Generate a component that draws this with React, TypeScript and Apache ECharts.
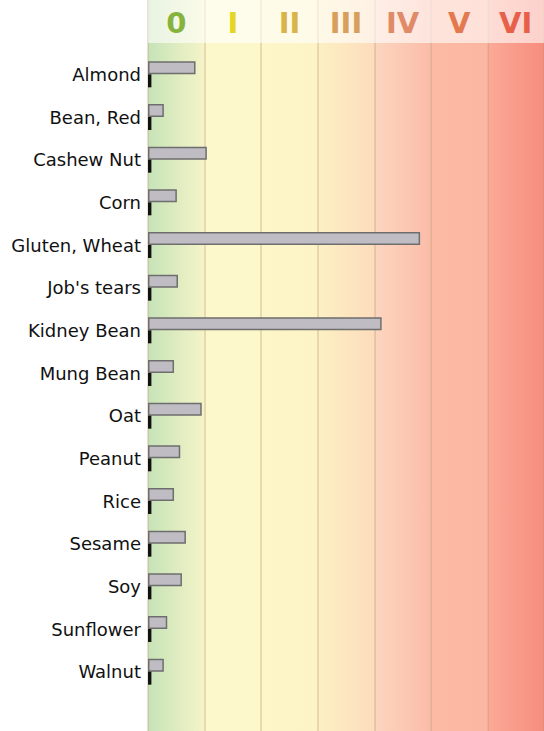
import React, { useEffect, useRef } from "react";
import * as echarts from "echarts";

const categories = [
  "Almond", "Bean, Red", "Cashew Nut", "Corn", "Gluten, Wheat", "Job's tears",
  "Kidney Bean", "Mung Bean", "Oat", "Peanut", "Rice", "Sesame", "Soy", "Sunflower", "Walnut",
];
const classValues = [0.84, 0.28, 1.04, 0.51, 4.81, 0.53, 4.13, 0.46, 0.95, 0.57, 0.46, 0.67, 0.6, 0.34, 0.28];
const baselineMarker = [0.06, 0.06, 0.06, 0.06, 0.06, 0.06, 0.06, 0.06, 0.06, 0.06, 0.06, 0.06, 0.06, 0.06, 0.06];
const classLabels = ["0", "I", "II", "III", "IV", "V", "VI"];
const classLabelColors = ["#86b33c", "#e3d624", "#d9b44a", "#d89e5c", "#e18a68", "#e3794f", "#e8604a"];
const classGradients: [string, string][] = [
  ["#c6e3b8", "#f6f4c8"],
  ["#fdf7cc", "#fdf7cc"],
  ["#fdf6c8", "#fdf3c6"],
  ["#fdf0c4", "#fddcbc"],
  ["#fcd6bf", "#fbbca9"],
  ["#fcbaa5", "#fcb6a2"],
  ["#fbaa98", "#f78d7d"],
];

export default function App() {
  const ref = useRef<HTMLDivElement>(null);
  useEffect(() => {
    if (!ref.current) return;
    const chart = echarts.init(ref.current, undefined, { renderer: "svg" });
    const bgAreas = classGradients.map((g, i) => [
      {
        xAxis: i,
        itemStyle: {
          color: new echarts.graphic.LinearGradient(0, 0, 1, 0, [
            { offset: 0, color: g[0] },
            { offset: 1, color: g[1] },
          ]),
        },
      },
      { xAxis: i + 1 },
    ]);
    chart.setOption({
      animation: false,
      grid: [
        { left: 148, right: 0, top: 0, bottom: 0 },
        { left: 148, right: 0, top: 0, height: 43 },
        { left: 148, right: 0, top: 53, bottom: 38 },
      ],
      xAxis: [
        {
          gridIndex: 0, type: "value", min: 0, max: 7, interval: 1, z: 3,
          axisLabel: { show: false }, axisLine: { show: false }, axisTick: { show: false },
          splitLine: { show: true, lineStyle: { color: "rgba(185,150,100,0.3)", width: 2 } },
        },
        {
          gridIndex: 1, type: "category", data: classLabels, position: "top", z: 10,
          axisLine: { show: false }, axisTick: { show: false },
          axisLabel: {
            margin: -23, verticalAlign: "middle", fontSize: 29, fontWeight: "bold",
            fontFamily: "DejaVu Sans",
            color: (_v: any, i: number) => classLabelColors[i],
          },
        },
        {
          gridIndex: 2, type: "value", min: 0, max: 7, show: false,
        },
      ],
      yAxis: [
        { gridIndex: 0, type: "value", min: 0, max: 1, show: false },
        { gridIndex: 1, type: "value", min: 0, max: 1, show: false },
        {
          gridIndex: 2, type: "category", data: categories, inverse: true,
          axisLine: { show: false }, axisTick: { show: false },
          axisLabel: {
            fontSize: 18, color: "#111", fontFamily: "DejaVu Sans", margin: 7,
            padding: [0, 0, 4, 0],
          },
        },
      ],
      series: [
        {
          type: "line", xAxisIndex: 0, yAxisIndex: 0, data: [], silent: true,
          markArea: { silent: true, z: 1, data: bgAreas },
        },
        {
          type: "line", xAxisIndex: 1, yAxisIndex: 1, data: [], silent: true,
          markArea: {
            silent: true, z: 4,
            itemStyle: { color: "rgba(255,255,255,0.6)" },
            data: [[{ yAxis: 0 }, { yAxis: 1 }]],
          },
        },
        {
          type: "bar", xAxisIndex: 2, yAxisIndex: 2, data: classValues, z: 5,
          barWidth: 13, barGap: "0%",
          itemStyle: { color: "#bfbdc3", borderColor: "#6e6e6e", borderWidth: 1.5 },
        },
        {
          type: "bar", xAxisIndex: 2, yAxisIndex: 2, data: baselineMarker, z: 5,
          barWidth: 13, barGap: "0%",
          itemStyle: { color: "#111" },
        },
      ],
    });
    return () => chart.dispose();
  }, []);
  return <div ref={ref} style={{ width: 544, height: 731, position: "absolute", left: 0, top: 0 }} />;
}
